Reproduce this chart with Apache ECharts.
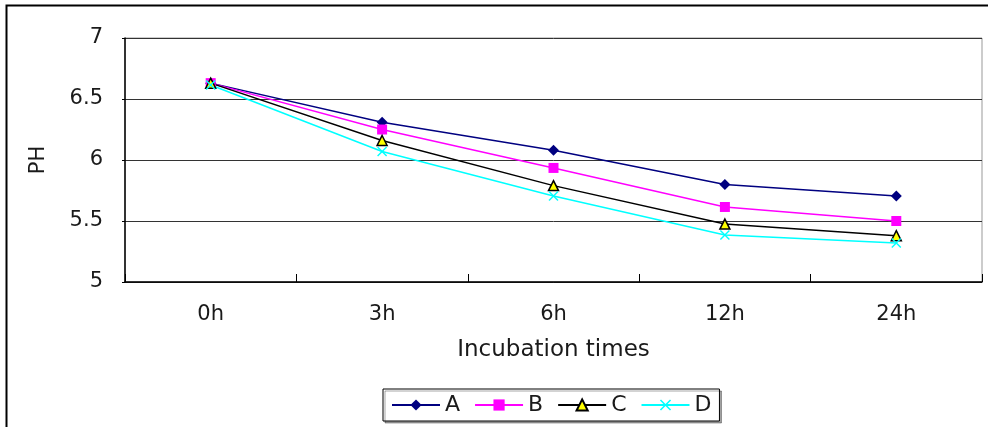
<!DOCTYPE html>
<html><head><meta charset="utf-8">
<script src="https://cdn.jsdelivr.net/npm/echarts@6/dist/echarts.min.js"></script>
<style>html,body{margin:0;padding:0;background:#fff}#c{width:988px;height:427px}</style>
</head><body><div id="c"></div>
<script>
const categories = ['0h', '3h', '6h', '12h', '24h'];
const seriesA = [6.63, 6.31, 6.08, 5.80, 5.705];
const seriesB = [6.63, 6.25, 5.935, 5.615, 5.50];
const seriesC = [6.63, 6.16, 5.79, 5.475, 5.38];
const seriesD = [6.615, 6.07, 5.705, 5.385, 5.32];
const yTicks = [5, 5.5, 6, 6.5, 7];

const FONT = 'DejaVu Sans';
const TXT = '#1a1a1a';
const xPath = 'path://M0,1 L1,0 L5,4 L9,0 L10,1 L6,5 L10,9 L9,10 L5,6 L1,10 L0,9 L4,5 Z';

const chart = echarts.init(document.getElementById('c'), null, {renderer: 'canvas'});
chart.setOption({
  animation: false,
  backgroundColor: '#fff',
  graphic: [{
    type: 'rect', left: 4, top: 3, z: -1,
    shape: {x: 0, y: 0, width: 1100, height: 600},
    style: {fill: 'none', stroke: '#000', lineWidth: 2}
  }],
  grid: {left: 125, top: 38, right: 6, bottom: 145, show: true, borderColor: '#999', borderWidth: 1},
  legend: {
    left: 383, top: 389, width: 340, height: 36,
    itemWidth: 48, itemHeight: 14, itemGap: 14,
    padding: [5, 8, 5, 8],
    backgroundColor: '#fff', borderColor: '#000', borderWidth: 1,
    shadowColor: 'rgba(0,0,0,0.35)', shadowOffsetX: 2, shadowOffsetY: 2, shadowBlur: 0,
    textStyle: {fontFamily: FONT, fontSize: 22, color: TXT, padding: [0, 0, 0, 0]},
    data: ['A', 'B', 'C', 'D']
  },
  xAxis: {
    type: 'category', data: categories, boundaryGap: true,
    name: 'Incubation times', nameLocation: 'middle', nameGap: 57,
    nameTextStyle: {fontFamily: FONT, fontSize: 23, color: TXT},
    axisLine: {lineStyle: {color: '#000', width: 1.5}},
    axisTick: {show: true, inside: true, length: 8, lineStyle: {color: '#000'}},
    axisLabel: {fontFamily: FONT, fontSize: 21, color: TXT, margin: 22},
    splitLine: {show: false}
  },
  yAxis: {
    type: 'value', min: yTicks[0], max: yTicks[yTicks.length - 1], interval: 0.5,
    name: 'PH', nameLocation: 'middle', nameGap: 76, nameRotate: 90,
    nameTextStyle: {fontFamily: FONT, fontSize: 21, color: TXT},
    axisLine: {show: true, lineStyle: {color: '#000', width: 1.5}},
    axisTick: {show: true, length: 3, lineStyle: {color: '#000'}},
    axisLabel: {fontFamily: FONT, fontSize: 21, color: TXT, margin: 22},
    splitLine: {show: true, lineStyle: {color: '#333', width: 1}}
  },
  series: [
    {name: 'A', type: 'line', data: seriesA, symbol: 'diamond', symbolSize: 11,
     lineStyle: {color: '#000080', width: 1.5}, itemStyle: {color: '#000080'}},
    {name: 'B', type: 'line', data: seriesB, symbol: 'rect', symbolSize: 10,
     lineStyle: {color: '#ff00ff', width: 1.5}, itemStyle: {color: '#ff00ff'}},
    {name: 'C', type: 'line', data: seriesC, symbol: 'triangle', symbolSize: 10,
     lineStyle: {color: '#000', width: 1.5}, itemStyle: {color: '#ffff00', borderColor: '#000', borderWidth: 1.5}},
    {name: 'D', type: 'line', data: seriesD, symbol: xPath, symbolSize: 10,
     lineStyle: {color: '#00ffff', width: 1.5}, itemStyle: {color: '#00ffff'}}
  ]
});
</script></body></html>
